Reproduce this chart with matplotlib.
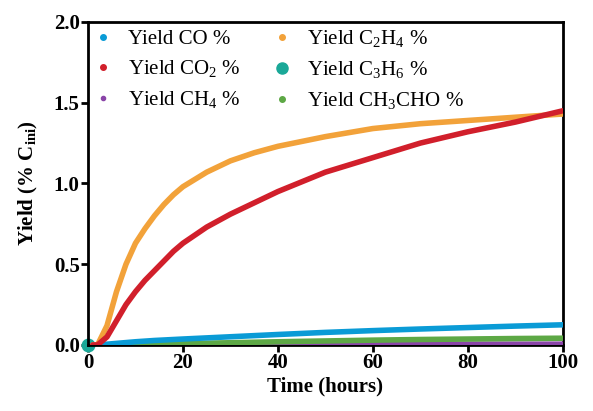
import matplotlib
matplotlib.use("Agg")
import matplotlib.pyplot as plt
from matplotlib.lines import Line2D

# time axis (hours)
t = [1, 2, 4, 6, 8, 10, 12, 14, 16, 18, 20, 25, 30, 35, 40, 50, 60, 70, 80, 90, 100]

y_c2h4 = [0.0, 0.0, 0.12, 0.33, 0.50, 0.63, 0.72, 0.80, 0.87, 0.93, 0.98,
          1.07, 1.14, 1.19, 1.23, 1.29, 1.34, 1.37, 1.39, 1.41, 1.43]
y_co2 = [0.0, 0.0, 0.05, 0.15, 0.25, 0.33, 0.40, 0.46, 0.52, 0.58, 0.63,
         0.73, 0.81, 0.88, 0.95, 1.07, 1.16, 1.25, 1.32, 1.38, 1.45]
y_co = [0.0, 0.0, 0.005, 0.01, 0.015, 0.02, 0.024, 0.028, 0.031, 0.034, 0.037,
        0.044, 0.051, 0.058, 0.065, 0.078, 0.089, 0.099, 0.108, 0.117, 0.125]
y_ch3cho = [0.0, 0.0, 0.0, 0.001, 0.002, 0.003, 0.004, 0.005, 0.006, 0.007, 0.008,
            0.011, 0.014, 0.017, 0.020, 0.025, 0.030, 0.034, 0.037, 0.040, 0.042]
y_ch4 = [0.0, 0.0, 0.0, 0.0, 0.0, 0.0, 0.001, 0.001, 0.001, 0.001, 0.002,
         0.002, 0.003, 0.003, 0.004, 0.004, 0.005, 0.005, 0.005, 0.005, 0.005]
y_c3h6 = [0.0] * len(t)

colors = {
    "CO": "#0a9bd6",
    "CO2": "#d11f2b",
    "CH4": "#8a44a8",
    "C2H4": "#f2a23a",
    "C3H6": "#1aa898",
    "CH3CHO": "#5da845",
}

plt.rcParams["font.family"] = ["Liberation Serif", "DejaVu Serif"]
plt.rcParams["mathtext.fontset"] = "custom"
plt.rcParams["mathtext.rm"] = "Liberation Serif"
plt.rcParams["mathtext.bf"] = "Liberation Serif:bold"

fig = plt.figure(figsize=(5.93, 4.11), dpi=100)
ax = fig.add_axes([0.1484, 0.1606, 0.8006, 0.786])

ax.plot(t, y_c3h6, color=colors["C3H6"], lw=5, solid_capstyle="round", zorder=2)
ax.plot([0], [0], "o", color=colors["C3H6"], ms=9, zorder=2, clip_on=False)
ax.plot(t, y_ch4, color=colors["CH4"], lw=4, solid_capstyle="round", zorder=3)
ax.plot(t, y_ch3cho, color=colors["CH3CHO"], lw=4, solid_capstyle="round", zorder=3)
ax.plot(t, y_co, color=colors["CO"], lw=4, solid_capstyle="round", zorder=4)
ax.plot(t, y_c2h4, color=colors["C2H4"], lw=4, solid_capstyle="round", zorder=4)
ax.plot(t, y_co2, color=colors["CO2"], lw=4, solid_capstyle="round", zorder=5)

ax.set_xlim(0, 100)
ax.set_ylim(0, 2.0)
ax.set_xticks([0, 20, 40, 60, 80, 100])
ax.set_yticks([0.0, 0.5, 1.0, 1.5, 2.0])
ax.set_yticklabels(["0.0", "0.5", "1.0", "1.5", "2.0"])

for s in ax.spines.values():
    s.set_linewidth(2.0)
ax.tick_params(direction="out", length=5, width=2, labelsize=15, pad=1)
for lab in ax.get_xticklabels() + ax.get_yticklabels():
    lab.set_fontweight("bold")

ax.set_xlabel("Time (hours)", fontsize=15, fontweight="bold", labelpad=2)
ax.set_ylabel(r"Yield (% C$_{\mathbf{ini}}$)", fontsize=15, fontweight="bold", labelpad=10)

labels = [r"Yield CO %", r"Yield CO$_2$ %", r"Yield CH$_4$ %",
          r"Yield C$_2$H$_4$ %", r"Yield C$_3$H$_6$ %", r"Yield CH$_3$CHO %"]
keys = ["CO", "CO2", "CH4", "C2H4", "C3H6", "CH3CHO"]
sizes = [4, 4, 3, 4, 8, 4]
handles = [Line2D([], [], ls="none", marker="o", color=colors[k], ms=m)
           for k, m in zip(keys, sizes)]
ax.legend(handles, labels, ncol=2, loc="upper left", frameon=False,
          fontsize=15, handletextpad=0.6, columnspacing=1.4, labelspacing=0.45,
          borderaxespad=0, handlelength=1.2, bbox_to_anchor=(-0.0126, 1.0062))

fig.savefig("out.png", dpi=100)
